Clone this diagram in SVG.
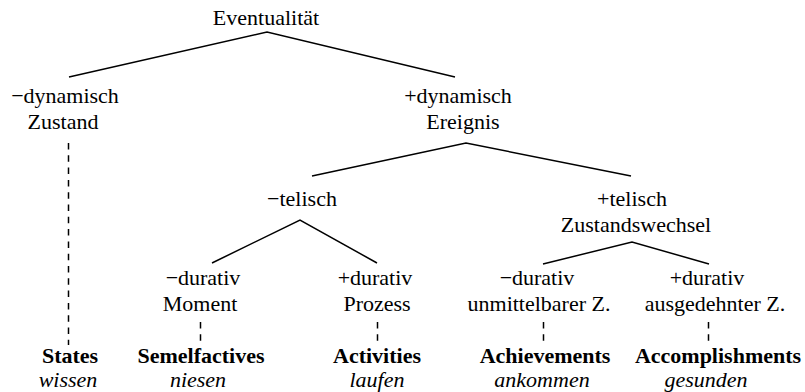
<svg xmlns="http://www.w3.org/2000/svg" width="805" height="392" viewBox="0 0 805 392">
<style>
text{font-family:"Liberation Serif","Times New Roman",serif;font-size:22px;fill:#000;text-anchor:middle}
.b{font-weight:bold}
.i{font-style:italic}
.e{fill:none;stroke:#000;stroke-width:1.5}
.d{fill:none;stroke:#000;stroke-width:1.5;stroke-dasharray:6.5 5.8}
</style>
<rect width="805" height="392" fill="#fff"/>
<g id="connectors">
<polyline class="e" points="69,77 267,32 455,77"/>
<polyline class="e" points="312,176 466,143 631,176"/>
<polyline class="e" points="212,263 300,220 377,263"/>
<polyline class="e" points="543,264 632,242 709,264"/>
<line class="d" x1="68.5" y1="143" x2="68.5" y2="345"/>
<line class="d" x1="200.5" y1="322" x2="200.5" y2="345"/>
<line class="d" x1="377.5" y1="322" x2="377.5" y2="345"/>
<line class="d" x1="543.5" y1="322" x2="543.5" y2="345"/>
<line class="d" x1="708.5" y1="322" x2="708.5" y2="345"/>
</g>
<g id="eventualitaet"><text x="266" y="25">Eventualität</text></g>
<g id="zustand"><text x="65" y="103">−dynamisch</text><text x="63" y="129">Zustand</text></g>
<g id="ereignis"><text x="458" y="103">+dynamisch</text><text x="463" y="129">Ereignis</text></g>
<g id="atelisch"><text x="302" y="206">−telisch</text></g>
<g id="telisch"><text x="632" y="206">+telisch</text><text x="636" y="232">Zustandswechsel</text></g>
<g id="moment"><text x="203" y="285">−durativ</text><text x="200" y="311">Moment</text></g>
<g id="prozess"><text x="375" y="285">+durativ</text><text x="377" y="311">Prozess</text></g>
<g id="unmittelbar"><text x="537" y="285">−durativ</text><text x="539" y="311">unmittelbarer Z.</text></g>
<g id="ausgedehnt"><text x="707" y="285">+durativ</text><text x="715" y="311">ausgedehnter Z.</text></g>
<g id="states"><text class="b" x="70" y="363">States</text><text class="i" x="68" y="387">wissen</text></g>
<g id="semelfactives"><text class="b" x="201" y="363">Semelfactives</text><text class="i" x="198" y="387">niesen</text></g>
<g id="activities"><text class="b" x="377" y="363">Activities</text><text class="i" x="377" y="387">laufen</text></g>
<g id="achievements"><text class="b" x="545" y="363">Achievements</text><text class="i" x="542" y="387">ankommen</text></g>
<g id="accomplishments"><text class="b" x="718" y="363">Accomplishments</text><text class="i" x="706" y="387">gesunden</text></g>
</svg>
